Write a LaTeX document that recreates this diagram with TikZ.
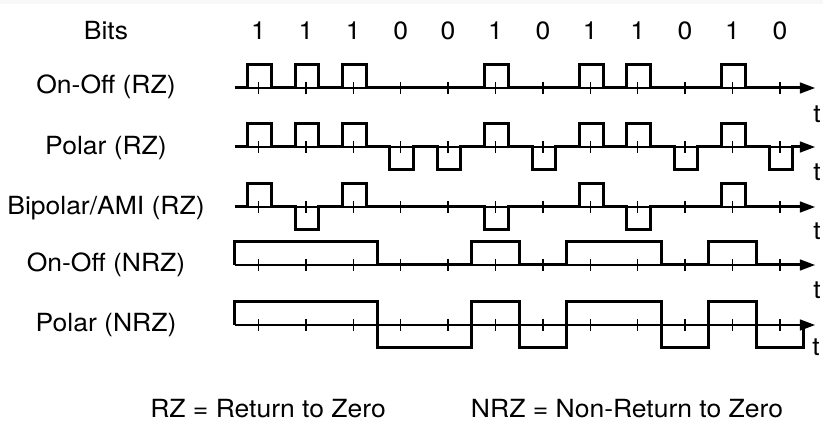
\documentclass[tikz,border=0pt]{standalone}
\usepackage{fontspec}
\setmainfont[FakeStretch=1.06]{TeX Gyre Heros}
\usetikzlibrary{arrows.meta}
\definecolor{topband}{HTML}{F8F8F8}
\begin{document}
\begin{tikzpicture}[x=1pt,y=-1pt,
  lbl/.style={font=\fontsize{25}{30}\selectfont, inner sep=0pt},
  axisline/.style={line width=1.3pt, -{Triangle[length=15pt,width=11pt]}},
  tickline/.style={line width=1.3pt},
  sig/.style={line width=3pt, line join=miter, line cap=butt}]
\useasboundingbox (0,0) rectangle (823,430);
\fill[topband] (0,0) rectangle (823,4.5);

% left labels
\node[lbl] (lbits) at (106,31) {Bits};
\node[lbl] (l1) at (106,87) {On-Off (RZ)};
\node[lbl] (l2) at (106,148) {Polar (RZ)};
\node[lbl] (l3) at (106,208) {Bipolar/AMI (RZ)};
\node[lbl] (l4) at (106,265) {On-Off (NRZ)};
\node[lbl] (l5) at (106,325) {Polar (NRZ)};

% t labels
\node[lbl] (t1) at (817,114) {t};
\node[lbl] (t2) at (817,172) {t};
\node[lbl] (t3) at (817,231) {t};
\node[lbl] (t4) at (817,290) {t};
\node[lbl] (t5) at (816,347) {t};

% footnotes
\node[lbl] (rz) at (268,409) {RZ = Return to Zero};
\node[lbl] (nrz) at (627,409) {NRZ = Non-Return to Zero};

\begin{scope}[xshift=234.8pt, x=47.4pt]
  % bit labels
  \foreach \b [count=\i from 0] in {1,1,1,0,0,1,0,1,1,0,1,0}
    \node[lbl] (bit\i) at (\i+0.5,31) {\b};
  % axes and ticks
  \foreach \yy in {88,147,207,265,325} {
    \draw[axisline] (0,\yy) -- (12.24,\yy);
    \foreach \i in {0,...,11}
      \draw[tickline] (\i+0.5,\yy-6) -- (\i+0.5,\yy+6);
  }
  % On-Off RZ
  \draw[sig] (0,88) -| (0.27,65) -| (0.77,88) -| (1.27,65) -| (1.77,88)
    -| (2.27,65) -| (2.77,88) -| (5.27,65) -| (5.77,88) -| (7.27,65)
    -| (7.77,88) -| (8.27,65) -| (8.77,88) -| (10.27,65) -| (10.77,88) -- (12,88);
  % Polar RZ
  \draw[sig] (0,147) -| (0.27,124) -| (0.77,147) -| (1.27,124) -| (1.77,147)
    -| (2.27,124) -| (2.77,147) -| (3.27,170) -| (3.77,147) -| (4.27,170)
    -| (4.77,147) -| (5.27,124) -| (5.77,147) -| (6.27,170) -| (6.77,147)
    -| (7.27,124) -| (7.77,147) -| (8.27,124) -| (8.77,147) -| (9.27,170)
    -| (9.77,147) -| (10.27,124) -| (10.77,147) -| (11.27,170) -| (11.77,147) -- (12,147);
  % Bipolar AMI RZ
  \draw[sig] (0,207) -| (0.27,184) -| (0.77,207) -| (1.27,230) -| (1.77,207)
    -| (2.27,184) -| (2.77,207) -| (5.27,230) -| (5.77,207) -| (7.27,184)
    -| (7.77,207) -| (8.27,230) -| (8.77,207) -| (10.27,184) -| (10.77,207) -- (12,207);
  % On-Off NRZ
  \draw[sig] (0,265) -- (0,242) -| (3,265) -| (5,242) -| (6,265) -| (7,242)
    -| (9,265) -| (10,242) -| (11,265) -- (12,265);
  % Polar NRZ
  \draw[sig] (0,325) -- (0,302) -| (3,348) -| (5,302) -| (6,348) -| (7,302)
    -| (9,348) -| (10,302) -| (11,348) -| (12,325);
\end{scope}
\end{tikzpicture}
\end{document}
